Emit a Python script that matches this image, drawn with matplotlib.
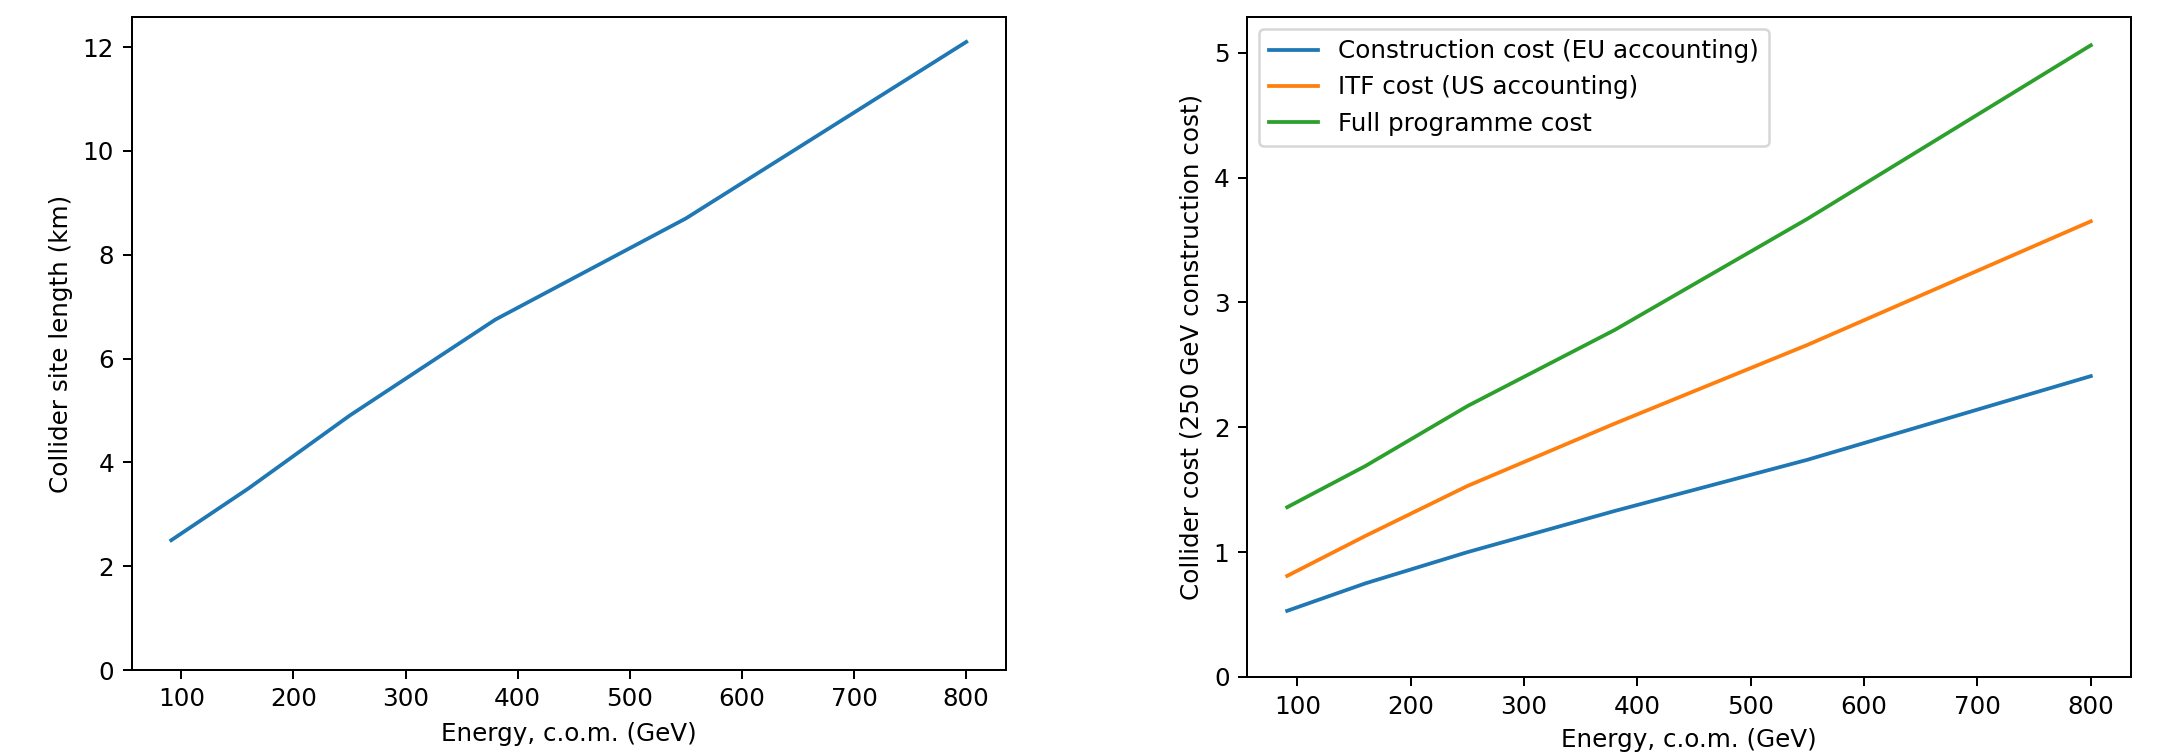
import matplotlib
matplotlib.use("Agg")
import matplotlib.pyplot as plt

# Centre-of-mass energy stages (GeV)
energy = [91, 160, 250, 380, 550, 800]

# Site length of the collider at each stage (km)
site_length = [2.5, 3.5, 4.9, 6.75, 8.7, 12.1]

# Costs normalised to the 250 GeV construction cost
construction_cost = [0.53, 0.75, 1.0, 1.33, 1.74, 2.41]
itf_cost = [0.81, 1.13, 1.53, 2.03, 2.66, 3.65]
full_programme_cost = [1.36, 1.69, 2.17, 2.78, 3.67, 5.06]

plt.rcParams["font.size"] = 9.85

W, H, DPI = 2161, 754, 180
fig = plt.figure(figsize=(W / DPI, H / DPI), dpi=DPI)

def box(left, top, right, bottom):
    return [left / W, 1 - bottom / H, (right - left) / W, (bottom - top) / H]

ax1 = fig.add_axes(box(131.5, 17, 1006, 670))
ax2 = fig.add_axes(box(1247, 17, 2131, 677))

ax1.plot(energy, site_length)
ax1.set_ylim(bottom=0)
ax1.set_xlabel("Energy, c.o.m. (GeV)")
ax1.set_ylabel("Collider site length (km)")

ax2.plot(energy, construction_cost, label="Construction cost (EU accounting)")
ax2.plot(energy, itf_cost, label="ITF cost (US accounting)")
ax2.plot(energy, full_programme_cost, label="Full programme cost")
ax2.set_ylim(bottom=0)
ax2.set_xlabel("Energy, c.o.m. (GeV)")
ax2.set_ylabel("Collider cost (250 GeV construction cost)")
ax2.legend(loc="upper left")

fig.savefig("out.png", dpi=DPI)
